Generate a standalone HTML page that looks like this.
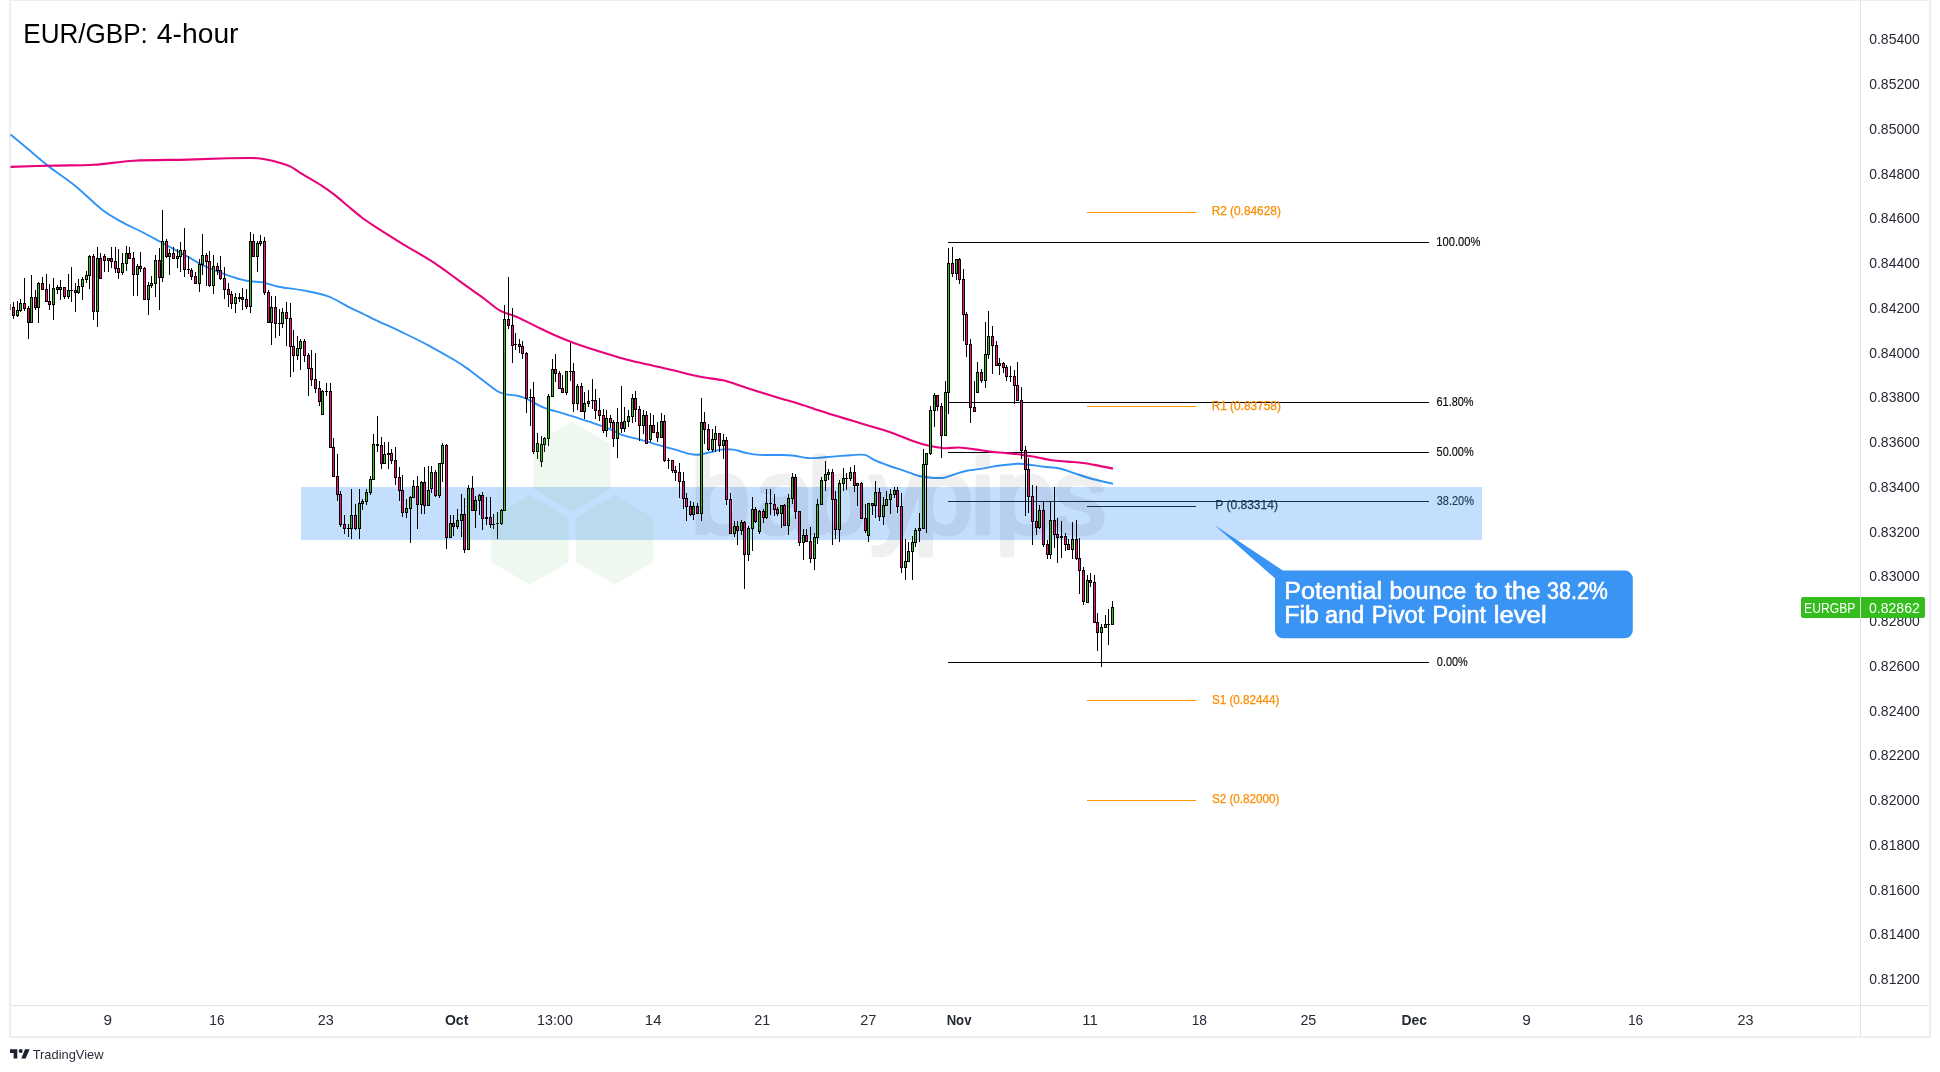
<!DOCTYPE html>
<html lang="en"><head><meta charset="utf-8"><title>EUR/GBP: 4-hour</title>
<style>html,body{margin:0;padding:0;background:#fff}body{width:1940px;height:1072px;overflow:hidden}svg{display:block;will-change:transform}text{font-family:"Liberation Sans",sans-serif}</style></head><body>
<svg width="1940" height="1072" viewBox="0 0 1940 1072">
<rect width="1940" height="1072" fill="#fff"/>
<g shape-rendering="crispEdges">
<rect x="9" y="0" width="1922" height="1" fill="#eceef4"/>
<rect x="9" y="0" width="2" height="1038" fill="#eceef4"/>
<rect x="1929" y="0" width="2" height="1038" fill="#eceef4"/>
<rect x="9" y="1036" width="1922" height="2" fill="#eceef4"/>
<rect x="1860" y="1" width="1" height="1035" fill="#e1e3e9"/>
<rect x="11" y="1005" width="1918" height="1" fill="#e1e3e9"/>
<rect x="948" y="242" width="481" height="1" fill="#000"/>
<rect x="948" y="402" width="481" height="1" fill="#000"/>
<rect x="948" y="452" width="481" height="1" fill="#000"/>
<rect x="948" y="501" width="481" height="1" fill="#000"/>
<rect x="948" y="662" width="481" height="1" fill="#000"/>
<rect x="1087" y="212" width="109" height="1" fill="#ff9800"/>
<rect x="1087" y="406" width="109" height="1" fill="#ff9800"/>
<rect x="1087" y="506" width="109" height="1" fill="#000"/>
<rect x="1087" y="700" width="109" height="1" fill="#ff9800"/>
<rect x="1087" y="800" width="109" height="1" fill="#ff9800"/>
</g>
<text x="1436.27" y="245.9" font-size="12" fill="#0a0a0a" textLength="44.08" lengthAdjust="spacingAndGlyphs" stroke="#0a0a0a" stroke-width="0.15">100.00%</text>
<text x="1436.52" y="406.0" font-size="12" fill="#0a0a0a" textLength="37.04" lengthAdjust="spacingAndGlyphs" stroke="#0a0a0a" stroke-width="0.15">61.80%</text>
<text x="1436.62" y="456.0" font-size="12" fill="#0a0a0a" textLength="36.98" lengthAdjust="spacingAndGlyphs" stroke="#0a0a0a" stroke-width="0.15">50.00%</text>
<text x="1436.69" y="505.0" font-size="12" fill="#0a0a0a" textLength="37.20" lengthAdjust="spacingAndGlyphs" stroke="#0a0a0a" stroke-width="0.15">38.20%</text>
<text x="1436.85" y="666.0" font-size="12" fill="#0a0a0a" textLength="30.89" lengthAdjust="spacingAndGlyphs" stroke="#0a0a0a" stroke-width="0.15">0.00%</text>
<text x="1211.64" y="215.2" font-size="12" fill="#fb8c00" textLength="69.22" lengthAdjust="spacingAndGlyphs" stroke="#fb8c00" stroke-width="0.25">R2 (0.84628)</text>
<text x="1211.64" y="409.8" font-size="12" fill="#fb8c00" textLength="69.22" lengthAdjust="spacingAndGlyphs" stroke="#fb8c00" stroke-width="0.25">R1 (0.83758)</text>
<text x="1215.35" y="509.3" font-size="12" fill="#111" textLength="62.57" lengthAdjust="spacingAndGlyphs" stroke="#111" stroke-width="0.25">P (0.83314)</text>
<text x="1211.89" y="703.9" font-size="12" fill="#fb8c00" textLength="67.54" lengthAdjust="spacingAndGlyphs" stroke="#fb8c00" stroke-width="0.25">S1 (0.82444)</text>
<text x="1211.89" y="802.9" font-size="12" fill="#fb8c00" textLength="67.54" lengthAdjust="spacingAndGlyphs" stroke="#fb8c00" stroke-width="0.25">S2 (0.82000)</text>
<rect x="301" y="487" width="1181" height="53" fill="#4296fa" fill-opacity="0.31" shape-rendering="crispEdges"/>
<path d="M10.5 134.6C13.2 136.8 20.5 142.8 26.8 148.1C33.1 153.3 40.2 159.8 48.2 166.1C56.2 172.4 66.1 178.5 75.0 185.7C83.9 192.9 94.2 203.5 101.8 209.4C109.4 215.3 113.9 217.5 120.6 221.3C127.3 225.1 135.3 228.6 142.0 232.0C148.7 235.4 153.2 237.9 160.8 242.0C168.4 246.1 180.4 252.8 187.6 256.7C194.8 260.6 197.0 262.5 203.7 265.6C210.4 268.7 220.7 272.8 227.8 275.3C235.0 277.8 240.8 279.6 246.6 280.8C252.4 282.0 257.3 281.4 262.7 282.4C268.1 283.4 272.0 285.4 278.7 286.7C285.4 288.0 294.8 288.8 302.9 290.4C311.0 292.0 319.9 293.4 327.5 296.1C335.1 298.8 342.2 303.7 348.4 306.8C354.6 309.9 360.0 312.3 364.5 314.5C369.0 316.7 368.9 316.9 375.2 319.8C381.4 322.8 393.1 327.9 402.0 332.2C410.9 336.5 419.9 340.8 428.8 345.6C437.7 350.4 448.7 356.7 455.6 360.8C462.5 364.9 465.5 367.3 470.0 370.5C474.5 373.7 478.6 377.1 482.4 380.0C486.2 382.9 490.1 385.9 493.0 388.0C495.9 390.1 497.5 391.4 500.0 392.5C502.5 393.6 505.1 394.1 508.0 394.6C510.9 395.2 514.5 395.1 517.5 395.8C520.5 396.5 521.9 396.7 526.3 398.7C530.7 400.7 537.9 405.2 543.8 407.6C549.6 410.0 555.5 411.1 561.4 412.9C567.2 414.7 573.1 416.5 578.9 418.4C584.7 420.3 591.1 422.3 596.4 424.1C601.7 425.9 606.1 427.5 610.5 429.4C614.9 431.2 617.7 433.5 622.7 435.2C627.7 436.9 634.4 438.1 640.3 439.7C646.1 441.3 652.0 443.1 657.8 444.8C663.6 446.5 670.0 448.2 675.3 449.7C680.6 451.2 685.6 453.1 689.4 453.9C693.2 454.7 694.6 455.0 698.1 454.7C701.6 454.4 706.6 453.0 710.4 452.2C714.2 451.4 717.1 450.0 720.9 449.6C724.7 449.2 729.1 449.1 733.2 449.6C737.3 450.1 741.1 451.8 745.5 452.7C749.9 453.6 753.6 454.5 759.5 454.9C765.4 455.3 774.8 454.9 780.6 455.0C786.5 455.1 790.2 455.2 794.6 455.7C799.0 456.2 802.8 457.6 806.9 458.0C811.0 458.4 814.3 458.1 819.1 457.8C823.9 457.5 830.2 456.8 835.5 456.4C840.8 456.0 846.0 455.4 850.9 455.2C855.8 454.9 860.9 454.1 864.8 454.9C868.7 455.7 870.0 457.9 874.1 459.8C878.2 461.7 884.5 464.1 889.6 466.0C894.8 467.9 900.1 469.4 905.0 471.1C909.9 472.8 914.6 474.9 919.0 476.0C923.4 477.1 927.2 477.4 931.3 477.7C935.4 478.0 939.8 478.2 943.7 477.7C947.6 477.1 950.6 475.5 954.5 474.4C958.4 473.2 962.2 471.8 966.9 470.8C971.5 469.8 977.2 469.4 982.4 468.6C987.5 467.8 991.9 466.6 997.8 465.8C1003.7 465.0 1012.7 463.9 1017.9 463.7C1023.1 463.5 1024.4 464.2 1028.8 464.7C1033.2 465.2 1039.0 466.1 1044.2 466.7C1049.4 467.3 1054.6 467.4 1059.7 468.5C1064.8 469.6 1069.9 471.7 1075.1 473.4C1080.2 475.1 1084.3 476.8 1090.6 478.5C1096.9 480.2 1109.3 482.9 1113.0 483.8" fill="none" stroke="#3093f7" stroke-width="1.9" stroke-linejoin="round" stroke-linecap="butt"/>
<path d="M10.5 166.9C17.7 166.7 39.7 165.9 53.6 165.6C67.5 165.2 80.4 165.6 93.8 164.8C107.2 164.0 118.4 161.6 134.0 160.7C149.6 159.8 172.0 160.0 187.6 159.6C203.2 159.2 217.4 158.6 227.8 158.3C238.2 158.0 244.6 158.0 250.0 158.0C255.4 158.0 256.1 158.0 260.0 158.5C263.9 159.0 268.5 159.6 273.4 160.9C278.3 162.2 285.0 164.1 289.5 166.1C294.0 168.1 294.8 169.6 300.2 172.8C305.6 176.1 315.8 181.9 321.6 185.6C327.4 189.3 330.5 191.7 335.0 195.2C339.5 198.7 343.9 202.8 348.4 206.5C352.9 210.2 357.3 214.1 361.8 217.5C366.3 220.9 368.5 222.3 375.2 226.7C381.9 231.0 393.1 238.2 402.0 243.6C410.9 249.0 422.1 255.3 428.8 259.4C435.5 263.5 437.7 265.3 442.2 268.4C446.7 271.5 451.1 274.9 455.6 278.1C460.1 281.4 464.5 284.7 469.0 287.9C473.5 291.1 477.2 293.5 482.4 297.3C487.6 301.1 494.1 307.3 500.0 310.6C505.9 313.9 511.6 314.6 517.5 317.2C523.4 319.8 529.2 323.1 535.1 325.9C541.0 328.7 546.8 331.6 552.6 334.2C558.4 336.8 564.2 339.2 570.1 341.5C576.0 343.8 581.9 345.8 587.7 347.7C593.6 349.6 599.4 351.4 605.2 353.2C611.0 355.0 616.9 356.8 622.7 358.4C628.6 360.0 634.4 361.4 640.3 362.8C646.1 364.2 652.0 365.5 657.8 366.8C663.6 368.1 669.4 369.3 675.3 370.7C681.1 372.1 687.0 373.9 692.9 375.2C698.8 376.5 705.1 377.5 710.4 378.4C715.6 379.3 718.5 379.1 724.4 380.6C730.2 382.1 739.1 385.4 745.5 387.5C751.9 389.6 757.1 391.2 763.0 393.0C768.9 394.8 774.8 396.6 780.6 398.4C786.5 400.2 792.3 401.8 798.1 403.6C803.9 405.4 809.5 407.4 815.6 409.4C821.8 411.4 829.1 413.8 835.0 415.6C840.9 417.4 843.1 418.0 850.9 420.3C858.7 422.6 874.2 427.2 881.9 429.6C889.6 432.0 892.1 433.0 897.3 434.9C902.4 436.8 907.6 439.2 912.8 441.0C917.9 442.8 923.1 444.4 928.2 445.6C933.4 446.8 938.5 447.9 943.7 448.2C948.9 448.5 954.1 447.3 959.2 447.5C964.4 447.7 969.5 448.7 974.6 449.4C979.8 450.1 984.9 451.0 990.1 451.6C995.3 452.2 1000.5 452.5 1005.6 453.0C1010.8 453.5 1015.9 453.9 1021.0 454.6C1026.2 455.3 1031.3 456.4 1036.5 457.3C1041.7 458.2 1046.8 459.6 1051.9 460.3C1057.1 461.0 1062.2 461.2 1067.4 461.6C1072.6 462.1 1077.8 462.3 1082.9 463.0C1088.1 463.7 1093.3 464.7 1098.3 465.6C1103.3 466.5 1110.5 468.1 1113.0 468.6" fill="none" stroke="#e8037a" stroke-width="2.1" stroke-linejoin="round" stroke-linecap="butt"/>
<rect x="10" y="304" width="1" height="6" fill="#777" shape-rendering="crispEdges"/>
<g shape-rendering="crispEdges">
<path d="M13 302h1v17h-1zM17 301h1v16h-1zM20 299h1v13h-1zM24 278h1v33h-1zM28 306h1v33h-1zM31 275h1v48h-1zM35 290h1v20h-1zM38 282h1v41h-1zM42 277h1v13h-1zM46 274h1v28h-1zM49 284h1v26h-1zM53 278h1v42h-1zM57 285h1v9h-1zM60 280h1v20h-1zM64 287h1v12h-1zM68 274h1v25h-1zM71 267h1v35h-1zM75 283h1v29h-1zM78 279h1v15h-1zM82 277h1v23h-1zM86 271h1v12h-1zM89 255h1v34h-1zM93 254h1v66h-1zM97 247h1v80h-1zM100 253h1v26h-1zM104 254h1v18h-1zM108 258h1v14h-1zM111 247h1v21h-1zM115 247h1v26h-1zM118 249h1v30h-1zM122 253h1v22h-1zM126 246h1v25h-1zM129 247h1v12h-1zM133 252h1v44h-1zM137 264h1v32h-1zM140 252h1v20h-1zM144 267h1v33h-1zM148 282h1v33h-1zM151 276h1v12h-1zM155 255h1v42h-1zM159 248h1v62h-1zM162 210h1v72h-1zM166 239h1v19h-1zM169 249h1v26h-1zM173 247h1v12h-1zM177 249h1v19h-1zM180 242h1v30h-1zM184 228h1v49h-1zM188 256h1v18h-1zM191 268h1v12h-1zM195 272h1v12h-1zM199 259h1v33h-1zM202 234h1v41h-1zM206 253h1v33h-1zM209 251h1v36h-1zM213 255h1v39h-1zM217 263h1v12h-1zM220 256h1v24h-1zM224 267h1v32h-1zM228 283h1v24h-1zM231 291h1v18h-1zM235 293h1v20h-1zM239 293h1v9h-1zM242 288h1v22h-1zM246 289h1v20h-1zM250 232h1v81h-1zM253 234h1v23h-1zM257 241h1v31h-1zM260 235h1v11h-1zM264 237h1v58h-1zM268 290h1v33h-1zM271 296h1v49h-1zM275 296h1v42h-1zM279 309h1v27h-1zM282 308h1v20h-1zM286 302h1v44h-1zM290 303h1v74h-1zM293 330h1v42h-1zM297 336h1v24h-1zM300 339h1v31h-1zM304 339h1v23h-1zM308 353h1v43h-1zM311 350h1v36h-1zM315 353h1v40h-1zM319 381h1v25h-1zM322 390h1v25h-1zM326 383h1v13h-1zM330 383h1v65h-1zM333 438h1v39h-1zM337 454h1v47h-1zM340 491h1v36h-1zM344 515h1v19h-1zM348 524h1v13h-1zM351 489h1v50h-1zM355 504h1v26h-1zM359 489h1v50h-1zM362 499h1v11h-1zM366 489h1v16h-1zM370 476h1v19h-1zM373 434h1v46h-1zM377 416h1v36h-1zM381 437h1v32h-1zM384 442h1v22h-1zM388 442h1v27h-1zM391 449h1v15h-1zM395 447h1v38h-1zM399 467h1v34h-1zM402 475h1v42h-1zM406 499h1v19h-1zM410 496h1v47h-1zM413 480h1v18h-1zM417 476h1v53h-1zM421 481h1v33h-1zM424 467h1v47h-1zM428 466h1v40h-1zM431 466h1v27h-1zM435 470h1v27h-1zM439 463h1v35h-1zM442 443h1v39h-1zM446 444h1v105h-1zM450 515h1v23h-1zM453 515h1v21h-1zM457 509h1v20h-1zM461 494h1v43h-1zM464 498h1v55h-1zM468 485h1v65h-1zM472 476h1v35h-1zM475 496h1v32h-1zM479 494h1v21h-1zM482 492h1v38h-1zM486 497h1v28h-1zM490 497h1v31h-1zM493 514h1v15h-1zM497 512h1v27h-1zM501 509h1v16h-1zM504 305h1v206h-1zM508 277h1v52h-1zM512 308h1v55h-1zM515 333h1v17h-1zM519 339h1v14h-1zM522 341h1v18h-1zM526 352h1v61h-1zM530 389h1v37h-1zM533 382h1v72h-1zM537 433h1v26h-1zM541 436h1v31h-1zM544 437h1v15h-1zM548 394h1v52h-1zM552 359h1v38h-1zM555 354h1v28h-1zM559 371h1v18h-1zM562 375h1v18h-1zM566 371h1v24h-1zM570 343h1v38h-1zM573 363h1v49h-1zM577 384h1v26h-1zM581 383h1v29h-1zM584 392h1v27h-1zM588 390h1v17h-1zM592 379h1v30h-1zM595 389h1v30h-1zM599 398h1v23h-1zM603 409h1v24h-1zM606 410h1v27h-1zM610 415h1v13h-1zM613 420h1v27h-1zM617 408h1v50h-1zM621 386h1v47h-1zM624 407h1v25h-1zM628 410h1v17h-1zM632 394h1v29h-1zM635 391h1v31h-1zM639 406h1v35h-1zM643 410h1v24h-1zM646 411h1v33h-1zM650 413h1v29h-1zM653 415h1v18h-1zM657 422h1v20h-1zM661 413h1v25h-1zM664 415h1v47h-1zM668 458h1v11h-1zM672 460h1v13h-1zM675 466h1v15h-1zM679 463h1v35h-1zM683 472h1v37h-1zM686 493h1v28h-1zM690 501h1v15h-1zM693 502h1v18h-1zM697 503h1v11h-1zM701 398h1v123h-1zM704 412h1v32h-1zM708 424h1v27h-1zM712 429h1v23h-1zM715 426h1v26h-1zM719 433h1v19h-1zM723 434h1v25h-1zM726 437h1v68h-1zM730 493h1v41h-1zM734 521h1v16h-1zM737 521h1v24h-1zM741 520h1v15h-1zM744 521h1v68h-1zM748 526h1v35h-1zM752 497h1v54h-1zM755 507h1v16h-1zM759 510h1v24h-1zM763 509h1v14h-1zM766 489h1v30h-1zM770 489h1v26h-1zM774 494h1v22h-1zM777 507h1v9h-1zM781 505h1v23h-1zM784 504h1v22h-1zM788 494h1v41h-1zM792 473h1v31h-1zM795 474h1v45h-1zM799 511h1v35h-1zM803 529h1v31h-1zM806 529h1v13h-1zM810 527h1v36h-1zM814 533h1v37h-1zM817 499h1v45h-1zM821 477h1v28h-1zM825 461h1v30h-1zM828 469h1v11h-1zM832 469h1v76h-1zM835 491h1v48h-1zM839 480h1v62h-1zM843 468h1v23h-1zM846 473h1v17h-1zM850 467h1v14h-1zM854 465h1v27h-1zM857 483h1v23h-1zM861 482h1v37h-1zM865 504h1v29h-1zM868 503h1v39h-1zM872 503h1v12h-1zM875 481h1v37h-1zM879 488h1v33h-1zM883 497h1v28h-1zM886 491h1v15h-1zM890 489h1v25h-1zM894 487h1v11h-1zM897 487h1v26h-1zM901 493h1v80h-1zM905 539h1v41h-1zM908 542h1v20h-1zM912 536h1v44h-1zM915 528h1v19h-1zM919 513h1v29h-1zM923 449h1v80h-1zM926 453h1v80h-1zM930 406h1v49h-1zM934 393h1v34h-1zM937 395h1v16h-1zM941 403h1v55h-1zM945 381h1v55h-1zM948 248h1v166h-1zM952 247h1v30h-1zM956 259h1v21h-1zM959 258h1v26h-1zM963 269h1v72h-1zM966 312h1v45h-1zM970 339h1v84h-1zM974 381h1v31h-1zM977 362h1v31h-1zM981 369h1v14h-1zM985 322h1v66h-1zM988 311h1v48h-1zM992 326h1v48h-1zM996 341h1v25h-1zM999 358h1v17h-1zM1003 362h1v11h-1zM1006 365h1v16h-1zM1010 366h1v16h-1zM1014 370h1v34h-1zM1017 362h1v39h-1zM1021 387h1v72h-1zM1025 446h1v70h-1zM1028 458h1v55h-1zM1032 485h1v60h-1zM1036 486h1v49h-1zM1039 505h1v24h-1zM1043 501h1v46h-1zM1047 540h1v19h-1zM1050 502h1v57h-1zM1054 487h1v61h-1zM1057 518h1v45h-1zM1061 521h1v37h-1zM1065 533h1v18h-1zM1068 539h1v11h-1zM1072 522h1v37h-1zM1076 520h1v40h-1zM1079 538h1v56h-1zM1083 567h1v38h-1zM1087 575h1v28h-1zM1090 573h1v14h-1zM1094 575h1v48h-1zM1097 613h1v38h-1zM1101 624h1v43h-1zM1105 615h1v13h-1zM1108 609h1v36h-1zM1112 601h1v24h-1z" fill="#000"/>
<path d="M12 307h3v9h-3zM16 310h3v6h-3zM19 303h3v8h-3zM23 303h3v6h-3zM27 308h3v15h-3zM30 297h3v26h-3zM34 297h3v11h-3zM37 283h3v25h-3zM41 283h3v7h-3zM45 289h3v13h-3zM48 301h3v4h-3zM52 288h3v17h-3zM56 287h3v3h-3zM59 287h3v3h-3zM63 287h3v10h-3zM67 290h3v7h-3zM70 290h3v1h-3zM74 290h3v3h-3zM77 286h3v7h-3zM81 279h3v8h-3zM85 275h3v5h-3zM88 256h3v20h-3zM92 256h3v56h-3zM96 258h3v54h-3zM99 258h3v21h-3zM103 256h3v5h-3zM107 258h3v3h-3zM110 258h3v4h-3zM114 261h3v8h-3zM117 268h3v5h-3zM121 263h3v10h-3zM125 253h3v11h-3zM128 253h3v6h-3zM132 258h3v17h-3zM136 266h3v9h-3zM139 266h3v3h-3zM143 268h3v32h-3zM147 285h3v15h-3zM150 283h3v3h-3zM154 260h3v24h-3zM158 260h3v18h-3zM161 241h3v37h-3zM165 241h3v16h-3zM168 253h3v4h-3zM172 253h3v6h-3zM176 256h3v3h-3zM179 250h3v7h-3zM183 250h3v20h-3zM187 269h3v1h-3zM190 270h3v7h-3zM194 276h3v8h-3zM198 264h3v20h-3zM201 255h3v10h-3zM205 255h3v7h-3zM208 261h3v25h-3zM212 266h3v20h-3zM216 266h3v5h-3zM219 270h3v9h-3zM223 278h3v12h-3zM227 289h3v6h-3zM230 294h3v10h-3zM234 297h3v7h-3zM238 297h3v2h-3zM241 297h3v3h-3zM245 299h3v8h-3zM249 241h3v66h-3zM252 241h3v16h-3zM256 243h3v14h-3zM259 241h3v3h-3zM263 241h3v52h-3zM267 292h3v31h-3zM270 307h3v16h-3zM274 307h3v17h-3zM278 323h3v1h-3zM281 312h3v12h-3zM285 312h3v7h-3zM289 318h3v29h-3zM292 346h3v10h-3zM296 348h3v8h-3zM299 341h3v8h-3zM303 341h3v15h-3zM307 355h3v14h-3zM310 368h3v12h-3zM314 379h3v10h-3zM318 388h3v14h-3zM321 391h3v24h-3zM325 391h3v1h-3zM329 391h3v57h-3zM332 447h3v30h-3zM336 476h3v19h-3zM339 494h3v31h-3zM343 524h3v5h-3zM347 528h3v1h-3zM350 515h3v14h-3zM354 515h3v14h-3zM358 503h3v26h-3zM361 501h3v3h-3zM365 492h3v10h-3zM369 479h3v14h-3zM372 444h3v36h-3zM376 444h3v2h-3zM380 445h3v19h-3zM383 454h3v10h-3zM387 453h3v2h-3zM390 453h3v8h-3zM394 460h3v18h-3zM398 477h3v14h-3zM401 490h3v23h-3zM405 508h3v5h-3zM409 497h3v12h-3zM412 486h3v12h-3zM416 486h3v19h-3zM420 482h3v23h-3zM423 482h3v24h-3zM427 490h3v16h-3zM430 472h3v17h-3zM434 472h3v24h-3zM438 463h3v33h-3zM441 445h3v19h-3zM445 445h3v93h-3zM449 523h3v15h-3zM452 523h3v4h-3zM456 520h3v7h-3zM460 514h3v7h-3zM463 514h3v36h-3zM467 488h3v62h-3zM471 488h3v23h-3zM474 500h3v11h-3zM478 495h3v6h-3zM481 495h3v24h-3zM485 517h3v2h-3zM489 517h3v8h-3zM492 524h3v1h-3zM496 523h3v1h-3zM500 510h3v14h-3zM503 319h3v192h-3zM507 319h3v7h-3zM511 325h3v21h-3zM514 344h3v1h-3zM518 344h3v3h-3zM521 346h3v8h-3zM525 353h3v46h-3zM529 397h3v1h-3zM532 397h3v55h-3zM536 443h3v9h-3zM540 444h3v18h-3zM543 438h3v7h-3zM547 396h3v43h-3zM551 369h3v28h-3zM554 369h3v5h-3zM558 373h3v16h-3zM561 388h3v5h-3zM565 371h3v22h-3zM569 371h3v1h-3zM572 371h3v33h-3zM576 386h3v18h-3zM580 386h3v26h-3zM583 403h3v9h-3zM587 401h3v3h-3zM591 400h3v1h-3zM594 400h3v11h-3zM598 410h3v6h-3zM602 415h3v16h-3zM605 418h3v13h-3zM609 418h3v5h-3zM612 422h3v17h-3zM616 422h3v17h-3zM620 422h3v7h-3zM623 421h3v8h-3zM627 416h3v6h-3zM631 398h3v19h-3zM634 398h3v12h-3zM638 409h3v17h-3zM642 415h3v11h-3zM645 415h3v29h-3zM649 425h3v15h-3zM652 425h3v8h-3zM656 432h3v6h-3zM660 421h3v17h-3zM663 421h3v40h-3zM667 460h3v1h-3zM671 460h3v11h-3zM674 470h3v3h-3zM678 472h3v10h-3zM682 481h3v18h-3zM685 498h3v9h-3zM689 506h3v9h-3zM692 506h3v9h-3zM696 506h3v8h-3zM700 422h3v92h-3zM703 422h3v8h-3zM707 429h3v21h-3zM711 439h3v11h-3zM714 433h3v7h-3zM718 433h3v13h-3zM722 440h3v6h-3zM725 440h3v60h-3zM729 499h3v35h-3zM733 526h3v8h-3zM736 526h3v5h-3zM740 522h3v9h-3zM743 522h3v33h-3zM747 528h3v27h-3zM751 509h3v20h-3zM754 509h3v13h-3zM758 511h3v21h-3zM762 511h3v7h-3zM765 503h3v15h-3zM769 503h3v1h-3zM773 504h3v6h-3zM776 509h3v5h-3zM780 505h3v9h-3zM783 505h3v21h-3zM787 498h3v28h-3zM791 477h3v22h-3zM794 477h3v35h-3zM798 511h3v32h-3zM802 535h3v8h-3zM805 535h3v7h-3zM809 541h3v18h-3zM813 537h3v22h-3zM816 504h3v34h-3zM820 480h3v25h-3zM824 474h3v7h-3zM827 472h3v3h-3zM831 472h3v28h-3zM834 499h3v31h-3zM838 483h3v47h-3zM842 478h3v6h-3zM845 478h3v1h-3zM849 472h3v7h-3zM853 472h3v14h-3zM856 483h3v3h-3zM860 483h3v36h-3zM864 518h3v13h-3zM867 503h3v33h-3zM871 503h3v3h-3zM874 492h3v14h-3zM878 492h3v25h-3zM882 505h3v12h-3zM885 499h3v7h-3zM889 494h3v6h-3zM893 490h3v5h-3zM896 490h3v17h-3zM900 506h3v62h-3zM904 561h3v7h-3zM907 551h3v11h-3zM911 542h3v10h-3zM914 530h3v13h-3zM918 528h3v3h-3zM922 464h3v65h-3zM925 453h3v12h-3zM929 410h3v44h-3zM933 395h3v16h-3zM936 395h3v12h-3zM940 406h3v30h-3zM944 392h3v44h-3zM947 263h3v130h-3zM951 263h3v11h-3zM955 259h3v15h-3zM958 259h3v21h-3zM962 279h3v36h-3zM965 314h3v31h-3zM969 344h3v64h-3zM973 407h3v5h-3zM976 372h3v21h-3zM980 372h3v9h-3zM984 354h3v27h-3zM987 336h3v19h-3zM991 336h3v10h-3zM995 345h3v21h-3zM998 363h3v3h-3zM1002 363h3v5h-3zM1005 367h3v10h-3zM1009 376h3v1h-3zM1013 376h3v10h-3zM1016 385h3v16h-3zM1020 400h3v51h-3zM1024 450h3v20h-3zM1027 469h3v28h-3zM1031 496h3v26h-3zM1035 521h3v7h-3zM1038 510h3v18h-3zM1042 510h3v35h-3zM1046 544h3v11h-3zM1049 520h3v35h-3zM1053 520h3v15h-3zM1056 534h3v4h-3zM1060 536h3v2h-3zM1064 536h3v9h-3zM1067 544h3v6h-3zM1071 539h3v11h-3zM1075 539h3v20h-3zM1078 558h3v13h-3zM1082 570h3v32h-3zM1086 580h3v23h-3zM1089 580h3v3h-3zM1093 582h3v41h-3zM1096 622h3v11h-3zM1100 627h3v6h-3zM1104 624h3v4h-3zM1107 624h3v1h-3zM1111 607h3v18h-3z" fill="#000"/>
<path d="M17 311h1v4h-1zM20 304h1v6h-1zM31 298h1v24h-1zM38 284h1v23h-1zM53 289h1v15h-1zM57 288h1v1h-1zM60 288h1v1h-1zM68 291h1v5h-1zM78 287h1v5h-1zM82 280h1v6h-1zM86 276h1v3h-1zM89 257h1v18h-1zM97 259h1v52h-1zM108 259h1v1h-1zM122 264h1v8h-1zM126 254h1v9h-1zM137 267h1v7h-1zM148 286h1v13h-1zM151 284h1v1h-1zM155 261h1v22h-1zM162 242h1v35h-1zM169 254h1v2h-1zM177 257h1v1h-1zM180 251h1v5h-1zM199 265h1v18h-1zM202 256h1v8h-1zM213 267h1v18h-1zM235 298h1v5h-1zM250 242h1v64h-1zM257 244h1v12h-1zM260 242h1v1h-1zM271 308h1v14h-1zM282 313h1v10h-1zM297 349h1v6h-1zM300 342h1v6h-1zM322 392h1v22h-1zM351 516h1v12h-1zM359 504h1v24h-1zM362 502h1v1h-1zM366 493h1v8h-1zM370 480h1v12h-1zM373 445h1v34h-1zM384 455h1v8h-1zM406 509h1v3h-1zM410 498h1v10h-1zM413 487h1v10h-1zM421 483h1v21h-1zM428 491h1v14h-1zM431 473h1v15h-1zM439 464h1v31h-1zM442 446h1v17h-1zM450 524h1v13h-1zM457 521h1v5h-1zM461 515h1v5h-1zM468 489h1v60h-1zM475 501h1v9h-1zM479 496h1v4h-1zM501 511h1v12h-1zM504 320h1v190h-1zM537 444h1v7h-1zM541 445h1v16h-1zM544 439h1v5h-1zM548 397h1v41h-1zM552 370h1v26h-1zM566 372h1v20h-1zM577 387h1v16h-1zM584 404h1v7h-1zM588 402h1v1h-1zM606 419h1v11h-1zM617 423h1v15h-1zM624 422h1v6h-1zM628 417h1v4h-1zM632 399h1v17h-1zM643 416h1v9h-1zM650 426h1v13h-1zM661 422h1v15h-1zM693 507h1v7h-1zM701 423h1v90h-1zM712 440h1v9h-1zM715 434h1v5h-1zM723 441h1v4h-1zM734 527h1v6h-1zM741 523h1v7h-1zM748 529h1v25h-1zM752 510h1v18h-1zM759 512h1v19h-1zM766 504h1v13h-1zM781 506h1v7h-1zM788 499h1v26h-1zM792 478h1v20h-1zM803 536h1v6h-1zM814 538h1v20h-1zM817 505h1v32h-1zM821 481h1v23h-1zM825 475h1v5h-1zM828 473h1v1h-1zM839 484h1v45h-1zM843 479h1v4h-1zM850 473h1v5h-1zM857 484h1v1h-1zM868 504h1v31h-1zM875 493h1v12h-1zM883 506h1v10h-1zM886 500h1v5h-1zM890 495h1v4h-1zM894 491h1v3h-1zM905 562h1v5h-1zM908 552h1v9h-1zM912 543h1v8h-1zM915 531h1v11h-1zM919 529h1v1h-1zM923 465h1v63h-1zM926 454h1v10h-1zM930 411h1v42h-1zM934 396h1v14h-1zM945 393h1v42h-1zM948 264h1v128h-1zM956 260h1v13h-1zM977 373h1v19h-1zM985 355h1v25h-1zM988 337h1v17h-1zM999 364h1v1h-1zM1039 511h1v16h-1zM1050 521h1v33h-1zM1072 540h1v9h-1zM1087 581h1v21h-1zM1101 628h1v4h-1zM1105 625h1v2h-1zM1112 608h1v16h-1z" fill="#2fc21a"/>
<path d="M13 308h1v7h-1zM24 304h1v4h-1zM28 309h1v13h-1zM35 298h1v9h-1zM42 284h1v5h-1zM46 290h1v11h-1zM49 302h1v2h-1zM64 288h1v8h-1zM75 291h1v1h-1zM93 257h1v54h-1zM100 259h1v19h-1zM104 257h1v3h-1zM111 259h1v2h-1zM115 262h1v6h-1zM118 269h1v3h-1zM129 254h1v4h-1zM133 259h1v15h-1zM140 267h1v1h-1zM144 269h1v30h-1zM159 261h1v16h-1zM166 242h1v14h-1zM173 254h1v4h-1zM184 251h1v18h-1zM191 271h1v5h-1zM195 277h1v6h-1zM206 256h1v5h-1zM209 262h1v23h-1zM217 267h1v3h-1zM220 271h1v7h-1zM224 279h1v10h-1zM228 290h1v4h-1zM231 295h1v8h-1zM242 298h1v1h-1zM246 300h1v6h-1zM253 242h1v14h-1zM264 242h1v50h-1zM268 293h1v29h-1zM275 308h1v15h-1zM286 313h1v5h-1zM290 319h1v27h-1zM293 347h1v8h-1zM304 342h1v13h-1zM308 356h1v12h-1zM311 369h1v10h-1zM315 380h1v8h-1zM319 389h1v12h-1zM330 392h1v55h-1zM333 448h1v28h-1zM337 477h1v17h-1zM340 495h1v29h-1zM344 525h1v3h-1zM355 516h1v12h-1zM381 446h1v17h-1zM391 454h1v6h-1zM395 461h1v16h-1zM399 478h1v12h-1zM402 491h1v21h-1zM417 487h1v17h-1zM424 483h1v22h-1zM435 473h1v22h-1zM446 446h1v91h-1zM453 524h1v2h-1zM464 515h1v34h-1zM472 489h1v21h-1zM482 496h1v22h-1zM490 518h1v6h-1zM508 320h1v5h-1zM512 326h1v19h-1zM519 345h1v1h-1zM522 347h1v6h-1zM526 354h1v44h-1zM533 398h1v53h-1zM555 370h1v3h-1zM559 374h1v14h-1zM562 389h1v3h-1zM573 372h1v31h-1zM581 387h1v24h-1zM595 401h1v9h-1zM599 411h1v4h-1zM603 416h1v14h-1zM610 419h1v3h-1zM613 423h1v15h-1zM621 423h1v5h-1zM635 399h1v10h-1zM639 410h1v15h-1zM646 416h1v27h-1zM653 426h1v6h-1zM657 433h1v4h-1zM664 422h1v38h-1zM672 461h1v9h-1zM675 471h1v1h-1zM679 473h1v8h-1zM683 482h1v16h-1zM686 499h1v7h-1zM690 507h1v7h-1zM697 507h1v6h-1zM704 423h1v6h-1zM708 430h1v19h-1zM719 434h1v11h-1zM726 441h1v58h-1zM730 500h1v33h-1zM737 527h1v3h-1zM744 523h1v31h-1zM755 510h1v11h-1zM763 512h1v5h-1zM774 505h1v4h-1zM777 510h1v3h-1zM784 506h1v19h-1zM795 478h1v33h-1zM799 512h1v30h-1zM806 536h1v5h-1zM810 542h1v16h-1zM832 473h1v26h-1zM835 500h1v29h-1zM854 473h1v12h-1zM861 484h1v34h-1zM865 519h1v11h-1zM872 504h1v1h-1zM879 493h1v23h-1zM897 491h1v15h-1zM901 507h1v60h-1zM937 396h1v10h-1zM941 407h1v28h-1zM952 264h1v9h-1zM959 260h1v19h-1zM963 280h1v34h-1zM966 315h1v29h-1zM970 345h1v62h-1zM974 408h1v3h-1zM981 373h1v7h-1zM992 337h1v8h-1zM996 346h1v19h-1zM1003 364h1v3h-1zM1006 368h1v8h-1zM1014 377h1v8h-1zM1017 386h1v14h-1zM1021 401h1v49h-1zM1025 451h1v18h-1zM1028 470h1v26h-1zM1032 497h1v24h-1zM1036 522h1v5h-1zM1043 511h1v33h-1zM1047 545h1v9h-1zM1054 521h1v13h-1zM1057 535h1v2h-1zM1065 537h1v7h-1zM1068 545h1v4h-1zM1076 540h1v18h-1zM1079 559h1v11h-1zM1083 571h1v30h-1zM1090 581h1v1h-1zM1094 583h1v39h-1zM1097 623h1v9h-1z" fill="#ff0a84"/>
</g>
<text y="43.0" fill="#000"><tspan x="23.36" font-size="27.8" textLength="124.50" lengthAdjust="spacingAndGlyphs">EUR/GBP:</tspan> <tspan x="156.88" font-size="27.8" textLength="81.66" lengthAdjust="spacingAndGlyphs">4-hour</tspan></text>
<text x="1869.23" y="44.2" font-size="14" fill="#262a35" textLength="50.48" lengthAdjust="spacingAndGlyphs">0.85400</text>
<text x="1869.23" y="89.0" font-size="14" fill="#262a35" textLength="50.48" lengthAdjust="spacingAndGlyphs">0.85200</text>
<text x="1869.23" y="133.7" font-size="14" fill="#262a35" textLength="50.48" lengthAdjust="spacingAndGlyphs">0.85000</text>
<text x="1869.23" y="178.5" font-size="14" fill="#262a35" textLength="50.48" lengthAdjust="spacingAndGlyphs">0.84800</text>
<text x="1869.23" y="223.2" font-size="14" fill="#262a35" textLength="50.48" lengthAdjust="spacingAndGlyphs">0.84600</text>
<text x="1869.23" y="268.0" font-size="14" fill="#262a35" textLength="50.48" lengthAdjust="spacingAndGlyphs">0.84400</text>
<text x="1869.23" y="312.8" font-size="14" fill="#262a35" textLength="50.48" lengthAdjust="spacingAndGlyphs">0.84200</text>
<text x="1869.23" y="357.5" font-size="14" fill="#262a35" textLength="50.48" lengthAdjust="spacingAndGlyphs">0.84000</text>
<text x="1869.23" y="402.3" font-size="14" fill="#262a35" textLength="50.48" lengthAdjust="spacingAndGlyphs">0.83800</text>
<text x="1869.23" y="447.0" font-size="14" fill="#262a35" textLength="50.48" lengthAdjust="spacingAndGlyphs">0.83600</text>
<text x="1869.23" y="491.8" font-size="14" fill="#262a35" textLength="50.48" lengthAdjust="spacingAndGlyphs">0.83400</text>
<text x="1869.23" y="536.6" font-size="14" fill="#262a35" textLength="50.48" lengthAdjust="spacingAndGlyphs">0.83200</text>
<text x="1869.23" y="581.3" font-size="14" fill="#262a35" textLength="50.48" lengthAdjust="spacingAndGlyphs">0.83000</text>
<text x="1869.23" y="626.1" font-size="14" fill="#262a35" textLength="50.48" lengthAdjust="spacingAndGlyphs">0.82800</text>
<text x="1869.23" y="670.8" font-size="14" fill="#262a35" textLength="50.48" lengthAdjust="spacingAndGlyphs">0.82600</text>
<text x="1869.23" y="715.6" font-size="14" fill="#262a35" textLength="50.48" lengthAdjust="spacingAndGlyphs">0.82400</text>
<text x="1869.23" y="760.4" font-size="14" fill="#262a35" textLength="50.48" lengthAdjust="spacingAndGlyphs">0.82200</text>
<text x="1869.23" y="805.1" font-size="14" fill="#262a35" textLength="50.48" lengthAdjust="spacingAndGlyphs">0.82000</text>
<text x="1869.23" y="849.9" font-size="14" fill="#262a35" textLength="50.48" lengthAdjust="spacingAndGlyphs">0.81800</text>
<text x="1869.23" y="894.6" font-size="14" fill="#262a35" textLength="50.48" lengthAdjust="spacingAndGlyphs">0.81600</text>
<text x="1869.23" y="939.4" font-size="14" fill="#262a35" textLength="50.48" lengthAdjust="spacingAndGlyphs">0.81400</text>
<text x="1869.23" y="984.2" font-size="14" fill="#262a35" textLength="50.48" lengthAdjust="spacingAndGlyphs">0.81200</text>
<text x="103.49" y="1025.2" font-size="14" fill="#262a35" textLength="8.51" lengthAdjust="spacingAndGlyphs">9</text>
<text x="209.36" y="1025.2" font-size="14" fill="#262a35" textLength="15.22" lengthAdjust="spacingAndGlyphs">16</text>
<text x="317.78" y="1025.2" font-size="14" fill="#262a35" textLength="16.00" lengthAdjust="spacingAndGlyphs">23</text>
<text x="444.94" y="1025.2" font-size="14" fill="#262a35" textLength="23.41" lengthAdjust="spacingAndGlyphs" font-weight="bold">Oct</text>
<text x="537.14" y="1025.2" font-size="14" fill="#262a35" textLength="35.74" lengthAdjust="spacingAndGlyphs">13:00</text>
<text x="644.77" y="1025.2" font-size="14" fill="#262a35" textLength="16.77" lengthAdjust="spacingAndGlyphs">14</text>
<text x="754.17" y="1025.2" font-size="14" fill="#262a35" textLength="15.98" lengthAdjust="spacingAndGlyphs">21</text>
<text x="860.16" y="1025.2" font-size="14" fill="#262a35" textLength="16.22" lengthAdjust="spacingAndGlyphs">27</text>
<text x="946.65" y="1025.2" font-size="14" fill="#262a35" textLength="24.80" lengthAdjust="spacingAndGlyphs" font-weight="bold">Nov</text>
<text x="1082.29" y="1025.2" font-size="14" fill="#262a35" textLength="15.56" lengthAdjust="spacingAndGlyphs">11</text>
<text x="1191.68" y="1025.2" font-size="14" fill="#262a35" textLength="15.35" lengthAdjust="spacingAndGlyphs">18</text>
<text x="1300.43" y="1025.2" font-size="14" fill="#262a35" textLength="15.91" lengthAdjust="spacingAndGlyphs">25</text>
<text x="1401.42" y="1025.2" font-size="14" fill="#262a35" textLength="25.53" lengthAdjust="spacingAndGlyphs" font-weight="bold">Dec</text>
<text x="1522.26" y="1025.2" font-size="14" fill="#262a35" textLength="8.61" lengthAdjust="spacingAndGlyphs">9</text>
<text x="1627.95" y="1025.2" font-size="14" fill="#262a35" textLength="15.31" lengthAdjust="spacingAndGlyphs">16</text>
<text x="1737.60" y="1025.2" font-size="14" fill="#262a35" textLength="16.04" lengthAdjust="spacingAndGlyphs">23</text>
<path d="M1214.4 524.9 L1283.2 570.8 L1275 578.3 Z" fill="#3a94f3"/>
<rect x="1275" y="570.6" width="357.8" height="67.7" rx="8" ry="8" fill="#3a94f3"/>
<text y="598.8" fill="#fff"><tspan x="1284.29" font-size="23" textLength="97.91" lengthAdjust="spacingAndGlyphs" stroke="#fff" stroke-width="0.55">Potential</tspan> <tspan x="1389.48" font-size="23" textLength="76.67" lengthAdjust="spacingAndGlyphs" stroke="#fff" stroke-width="0.55">bounce</tspan> <tspan x="1474.93" font-size="23" textLength="22.52" lengthAdjust="spacingAndGlyphs" stroke="#fff" stroke-width="0.55">to</tspan> <tspan x="1504.80" font-size="23" textLength="35.61" lengthAdjust="spacingAndGlyphs" stroke="#fff" stroke-width="0.55">the</tspan> <tspan x="1547.07" font-size="23" textLength="60.83" lengthAdjust="spacingAndGlyphs" stroke="#fff" stroke-width="0.55">38.2%</tspan></text>
<text y="622.8" fill="#fff"><tspan x="1284.32" font-size="23" textLength="34.66" lengthAdjust="spacingAndGlyphs" stroke="#fff" stroke-width="0.55">Fib</tspan> <tspan x="1325.10" font-size="23" textLength="39.21" lengthAdjust="spacingAndGlyphs" stroke="#fff" stroke-width="0.55">and</tspan> <tspan x="1371.71" font-size="23" textLength="52.65" lengthAdjust="spacingAndGlyphs" stroke="#fff" stroke-width="0.55">Pivot</tspan> <tspan x="1432.40" font-size="23" textLength="53.68" lengthAdjust="spacingAndGlyphs" stroke="#fff" stroke-width="0.55">Point</tspan> <tspan x="1493.82" font-size="23" textLength="52.79" lengthAdjust="spacingAndGlyphs" stroke="#fff" stroke-width="0.55">level</tspan></text>
<path d="M1803 597h57v21h-57a2 2 0 0 1-2-2v-17a2 2 0 0 1 2-2z" fill="#34be1e"/>
<path d="M1861 597h62a2 2 0 0 1 2 2v17a2 2 0 0 1-2 2h-62z" fill="#34be1e"/>
<text x="1804.08" y="612.7" font-size="14" fill="#fff" textLength="51.26" lengthAdjust="spacingAndGlyphs">EURGBP</text>
<text x="1869.01" y="612.7" font-size="14" fill="#fff" textLength="50.83" lengthAdjust="spacingAndGlyphs">0.82862</text>
<g fill="#6fbf6f" fill-opacity="0.115">
<polygon points="572.0,421.8 610.7,444.1 610.7,488.9 572.0,511.2 533.3,488.9 533.3,444.1"/>
<polygon points="529.9,495.2 568.6,517.5 568.6,562.2 529.9,584.6 491.2,562.2 491.2,517.5"/>
<polygon points="614.6,495.2 653.3,517.5 653.3,562.2 614.6,584.6 575.9,562.2 575.9,517.5"/>
</g>
<g opacity="0.055"><text x="690.9 755 808 870.5 914.1 971 995.6 1053" y="533" font-size="106" fill="#000" stroke="#000" stroke-width="5" stroke-linejoin="round" stroke-linecap="round">babypips</text></g>
<g fill="#1c2030"><path d="M10 1049.2h7.3v9.4h-3.7v-5.5H10z"/><circle cx="20.7" cy="1051.1" r="2"/><path d="M25 1049.2h4.7l-4.1 9.4h-4.3z"/></g>
<text x="32.70" y="1058.6" font-size="12.1" fill="#2a2e39" textLength="70.86" lengthAdjust="spacingAndGlyphs">TradingView</text>
</svg></body></html>
